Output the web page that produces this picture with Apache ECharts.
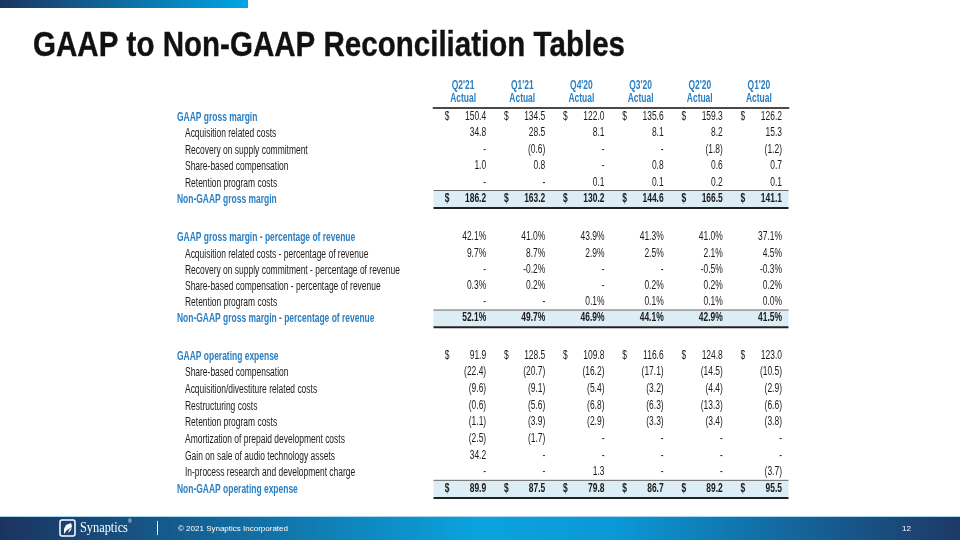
<!DOCTYPE html>
<html><head><meta charset="utf-8">
<script src="https://cdn.jsdelivr.net/npm/echarts@6/dist/echarts.min.js"></script>
<style>html,body{margin:0;padding:0;background:#fff}#c{width:960px;height:540px}</style>
</head><body><div id="c"></div><script>
// ---------- data ----------
const quarters = ["Q2'21", "Q1'21", "Q4'20", "Q3'20", "Q2'20", "Q1'20"];
const headerSub = "Actual";

const gmRows = ["GAAP gross margin", "Acquisition related costs", "Recovery on supply commitment",
  "Share-based compensation", "Retention program costs", "Non-GAAP gross margin"];
const gmValues = [
  [150.4, 134.5, 122.0, 135.6, 159.3, 126.2],
  [34.8, 28.5, 8.1, 8.1, 8.2, 15.3],
  [null, -0.6, null, null, -1.8, -1.2],
  [1.0, 0.8, null, 0.8, 0.6, 0.7],
  [null, null, 0.1, 0.1, 0.2, 0.1],
  [186.2, 163.2, 130.2, 144.6, 166.5, 141.1]
];

const pctRows = ["GAAP gross margin - percentage of revenue", "Acquisition related costs - percentage of revenue",
  "Recovery on supply commitment - percentage of revenue", "Share-based compensation - percentage of revenue",
  "Retention program costs", "Non-GAAP gross margin - percentage of revenue"];
const pctValues = [
  [42.1, 41.0, 43.9, 41.3, 41.0, 37.1],
  [9.7, 8.7, 2.9, 2.5, 2.1, 4.5],
  [null, -0.2, null, null, -0.5, -0.3],
  [0.3, 0.2, null, 0.2, 0.2, 0.2],
  [null, null, 0.1, 0.1, 0.1, 0.0],
  [52.1, 49.7, 46.9, 44.1, 42.9, 41.5]
];

const opexRows = ["GAAP operating expense", "Share-based compensation", "Acquisition/divestiture related costs",
  "Restructuring costs", "Retention program costs", "Amortization of prepaid development costs",
  "Gain on sale of audio technology assets", "In-process research and development charge", "Non-GAAP operating expense"];
const opexValues = [
  [91.9, 128.5, 109.8, 116.6, 124.8, 123.0],
  [-22.4, -20.7, -16.2, -17.1, -14.5, -10.5],
  [-9.6, -9.1, -5.4, -3.2, -4.4, -2.9],
  [-0.6, -5.6, -6.8, -6.3, -13.3, -6.6],
  [-1.1, -3.9, -2.9, -3.3, -3.4, -3.8],
  [-2.5, -1.7, null, null, null, null],
  [34.2, null, null, null, null, null],
  [null, null, 1.3, null, null, -3.7],
  [89.9, 87.5, 79.8, 86.7, 89.2, 95.5]
];

const titleText = "GAAP to Non-GAAP Reconciliation Tables";
const footerCompany = "Synaptics";
const footerCopy = "\u00A9 2021 Synaptics Incorporated";
const pageNo = "12";

// ---------- layout / style ----------
const FONT = "'Liberation Sans Narrow','Arial Narrow','Liberation Sans',Arial,sans-serif";
const BLUE = '#2a7fc3';
const TXT = '#1a1a1a';
const BAND = '#dcedf6';
const FS = 12;             // font size of table text
const SX = 0.705;          // horizontal condensing to mimic a narrow face
const gridLeft = 433.5, gridWidth = 355, labelX = 177, indent = 8;
const layout = [
  { top: 108, height: 99, kind: 'usd' },
  { top: 229, height: 97.2, kind: 'pct' },
  { top: 347, height: 150, kind: 'usd' }
];
const sections = [
  { rows: gmRows, values: gmValues },
  { rows: pctRows, values: pctValues },
  { rows: opexRows, values: opexValues }
];

function fmt(v, kind) {
  if (v === null || v === undefined) return '-';
  if (kind === 'pct') return v.toFixed(1) + '%';
  return v < 0 ? '(' + Math.abs(v).toFixed(1) + ')' : v.toFixed(1);
}
function txt(x, y, text, font, fill, align, sx) {
  return { type: 'text', x, y, scaleX: sx, style: { text, font, fill, align, verticalAlign: 'middle' } };
}

const chart = echarts.init(document.getElementById('c'), null, { renderer: 'canvas' });

const grids = [], xAxes = [], yAxes = [], series = [];
sections.forEach((sec, i) => {
  const L = layout[i];
  const n = sec.rows.length;
  grids.push({ left: gridLeft, width: gridWidth, top: L.top, height: L.height, containLabel: false });
  xAxes.push({
    type: 'category', gridIndex: i, data: quarters, position: 'top',
    show: i === 0,
    axisTick: { show: false },
    axisLine: { show: i === 0, lineStyle: { color: '#4a4a4a', width: 2 } },
    axisLabel: { show: false },
    splitLine: { show: false }
  });
  yAxes.push({
    type: 'category', gridIndex: i, data: sec.rows, inverse: true,
    axisTick: { show: false }, axisLine: { show: false }, splitLine: { show: false },
    axisLabel: { show: false }
  });
  // band for the Non-GAAP total row
  series.push({
    type: 'custom', xAxisIndex: i, yAxisIndex: i, z: 1, silent: true,
    data: [[0, n - 1]],
    renderItem: (params, api) => {
      const p = api.coord([0, api.value(1)]);
      const h = api.size([0, 1])[1];
      const cs = params.coordSys;
      const y0 = p[1] - h / 2, y1 = p[1] + h / 2;
      return {
        type: 'group', children: [
          { type: 'rect', shape: { x: cs.x, y: y0, width: cs.width, height: h }, style: { fill: BAND } },
          { type: 'line', shape: { x1: cs.x, y1: y0, x2: cs.x + cs.width, y2: y0 }, style: { stroke: '#666', lineWidth: 1 } },
          { type: 'line', shape: { x1: cs.x, y1: y1 + 1, x2: cs.x + cs.width, y2: y1 + 1 }, style: { stroke: '#222', lineWidth: 2 } }
        ]
      };
    }
  });
  // row labels (placed on the row category scale)
  series.push({
    type: 'custom', xAxisIndex: i, yAxisIndex: i, z: 5, silent: true,
    data: sec.rows.map((r, k) => [0, k]),
    renderItem: (params, api) => {
      const k = api.value(1);
      const p = api.coord([0, k]);
      const cs = params.coordSys;
      const head = (k === 0 || k === n - 1);
      const x = cs.x - (gridLeft - labelX) + (head ? 0 : indent);
      return txt(x, p[1] + 1, sec.rows[k], (head ? 'bold ' : '') + FS + 'px ' + FONT, head ? BLUE : TXT, 'left', SX);
    }
  });
  // header labels on the column scale
  if (i === 0) {
    series.push({
      type: 'custom', xAxisIndex: i, yAxisIndex: i, z: 5, silent: true,
      data: quarters.map((q, c) => [c, 0]),
      renderItem: (params, api) => {
        const c = api.value(0);
        const p = api.coord([c, 0]);
        const cs = params.coordSys;
        const f = 'bold ' + FS + 'px ' + FONT;
        return { type: 'group', children: [
          txt(p[0], cs.y - 22.5, quarters[c], f, BLUE, 'center', SX),
          txt(p[0], cs.y - 9.5, headerSub, f, BLUE, 'center', SX)
        ] };
      }
    });
  }
  // value cells
  const cells = [];
  sec.values.forEach((row, r) => row.forEach((v, c) => {
    cells.push({
      value: [c, r],
      text: fmt(v, L.kind),
      bold: r === n - 1,
      dollar: L.kind === 'usd' && (r === 0 || r === n - 1)
    });
  }));
  series.push({
    type: 'custom', xAxisIndex: i, yAxisIndex: i, z: 5, silent: true,
    data: cells.map(d => d.value),
    renderItem: (params, api) => {
      const d = cells[params.dataIndex];
      const p = api.coord([api.value(0), api.value(1)]);
      const w = api.size([1, 0])[0];
      const font = (d.bold ? 'bold ' : '') + FS + 'px ' + FONT;
      const kids = [txt(p[0] + w * 0.39, p[1], d.text, font, TXT, 'right', SX)];
      if (d.dollar) kids.push(txt(p[0] - w * 0.31, p[1], '$', font, TXT, 'left', SX));
      return { type: 'group', children: kids };
    }
  });
});

// title width fit
const cv = document.createElement('canvas').getContext('2d');
const titleFont = "bold 35px " + FONT;
cv.font = titleFont;
const tw = cv.measureText(titleText).width;
const tScale = 592 / tw;

chart.setOption({
  animation: false,
  backgroundColor: '#ffffff',
  grid: grids, xAxis: xAxes, yAxis: yAxes, series,
  graphic: [
    { type: 'rect', x: 0, y: 0, shape: { x: 0, y: 0, width: 248, height: 8 },
      style: { fill: new echarts.graphic.LinearGradient(0, 0, 1, 0, [{ offset: 0, color: '#1b3560' }, { offset: 1, color: '#00a6e4' }]) } },
    { type: 'text', x: 33, y: 46, scaleX: tScale,
      style: { text: titleText, font: titleFont, fill: '#111', stroke: '#111', lineWidth: 0.35, verticalAlign: 'middle' } },
    { type: 'rect', x: 0, y: 516, shape: { x: 0, y: 0, width: 960, height: 1 }, style: { fill: '#a9d8f0' } },
    { type: 'rect', x: 0, y: 517, shape: { x: 0, y: 0, width: 960, height: 23 },
      style: { fill: new echarts.graphic.LinearGradient(0, 0, 1, 0, [
        { offset: 0, color: '#1c3360' }, { offset: 0.5, color: '#0ba3de' }, { offset: 0.64, color: '#0b98d6' }, { offset: 1, color: '#1d3866' }]) } },
    { type: 'rect', x: 60, y: 520, shape: { x: 0, y: 0, width: 15, height: 16, r: 2 }, style: { fill: 'none', stroke: '#fff', lineWidth: 1.5 } },
    { type: 'polygon', x: 60, y: 520, shape: { points: [[11, 3], [6, 5], [4, 9], [4, 14], [7, 10], [12, 7], [9, 10], [8, 13], [11, 10], [12, 6]] }, style: { fill: '#fff' } },
    { type: 'text', x: 80, y: 528, scaleX: 0.88, style: { text: footerCompany, font: "14px 'Liberation Serif',serif", fill: '#fff', verticalAlign: 'middle' } },
    { type: 'text', x: 128, y: 522, style: { text: '\u00AE', font: "5px 'Liberation Sans',sans-serif", fill: '#fff', verticalAlign: 'middle' } },
    { type: 'rect', x: 157, y: 521, shape: { x: 0, y: 0, width: 1, height: 14 }, style: { fill: '#e8f4fb' } },
    { type: 'text', x: 178, y: 529, style: { text: footerCopy, font: "8px 'Liberation Sans',Arial,sans-serif", fill: '#fff', verticalAlign: 'middle' } },
    { type: 'text', x: 911, y: 529, style: { text: pageNo, font: "8px 'Liberation Sans',Arial,sans-serif", fill: '#fff', align: 'right', verticalAlign: 'middle' } }
  ]
});
</script></body></html>
